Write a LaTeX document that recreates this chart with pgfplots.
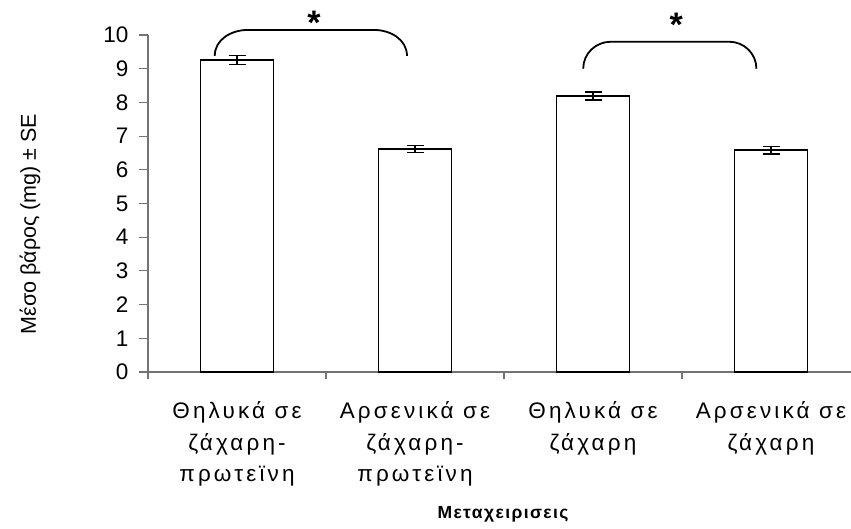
\documentclass[border=0pt]{standalone}
\usepackage{pgfplots}
\pgfplotsset{compat=1.18}
\usepackage{fontspec}
\setmainfont{Liberation Sans}
\newfontfamily\spaced[LetterSpace=14]{Liberation Sans}
\newfontfamily\spacedb[LetterSpace=8]{Liberation Sans}
\definecolor{axgray}{gray}{0.45}
\begin{document}
\begin{tikzpicture}
\begin{axis}[
  scale only axis, width=712pt, height=337pt,
  xmin=-0.5, xmax=3.5, ymin=0, ymax=10,
  clip=false,
  axis x line=bottom, axis y line=left,
  axis line style={axgray, line width=1.1pt, -},
  ytick={0,1,...,10},
  yticklabel style={font=\fontsize{22.5}{24}\selectfont, /pgf/number format/assume math mode=true, xshift=-7pt},
  ytick style={draw=axgray, line width=1.1pt},
  major tick length=9pt, tick align=outside,
  xtick={0,1,2,3},
  xticklabels={{Θηλυκά σε\\ζάχαρη-\\πρωτεϊνη},{Αρσενικά σε\\ζάχαρη-\\πρωτεϊνη},{Θηλυκά σε\\ζάχαρη},{Αρσενικά σε\\ζάχαρη}},
  xticklabel style={align=center, font=\spaced\fontsize{22.5}{31.7}\selectfont, yshift=-17pt},
  x tick style={draw=none},
  extra x ticks={-0.5,0.5,1.5,2.5},
  extra x tick labels={},
  extra x tick style={x tick style={draw=axgray, line width=1.1pt}, major tick length=7pt},
]
\addplot[ybar, bar width=0.41, fill=white, draw=black, line width=1.7pt,
  error bars/.cd, y dir=both, y explicit,
  error bar style={line width=1.4pt, black},
  error mark options={line width=1.4pt, mark size=8.5pt, black, rotate=90}]
  coordinates {(0,9.26) +- (0,0.14) (1,6.62) +- (0,0.11) (2,8.19) +- (0,0.12) (3,6.58) +- (0,0.11)};
\draw[line width=1.8pt] (axis cs:-0.125,9.38) to[out=90,in=180] (axis cs:0.06,10.15) -- (axis cs:0.77,10.15) to[out=0,in=90] (axis cs:0.955,9.38);
\draw[line width=1.8pt] (axis cs:1.945,9.0) to[out=90,in=180] (axis cs:2.1,9.8) -- (axis cs:2.765,9.8) to[out=0,in=90] (axis cs:2.918,9.0);
\node[font=\bfseries\fontsize{34}{34}\selectfont] at (axis cs:0.432,10.36) {*};
\node[font=\bfseries\fontsize{34}{34}\selectfont] at (axis cs:2.467,10.3) {*};
\end{axis}
\node[rotate=90, font=\fontsize{21.5}{24}\selectfont] at (-118pt,148pt) {Μέσο βάρος (mg) ± SE};
\node[font=\spacedb\bfseries\fontsize{17.5}{19}\selectfont] at (355pt,-142pt) {Μεταχειρισεις};
\pgfresetboundingbox
\path (-148pt,-156pt) rectangle (703pt,372pt);
\end{tikzpicture}
\end{document}
